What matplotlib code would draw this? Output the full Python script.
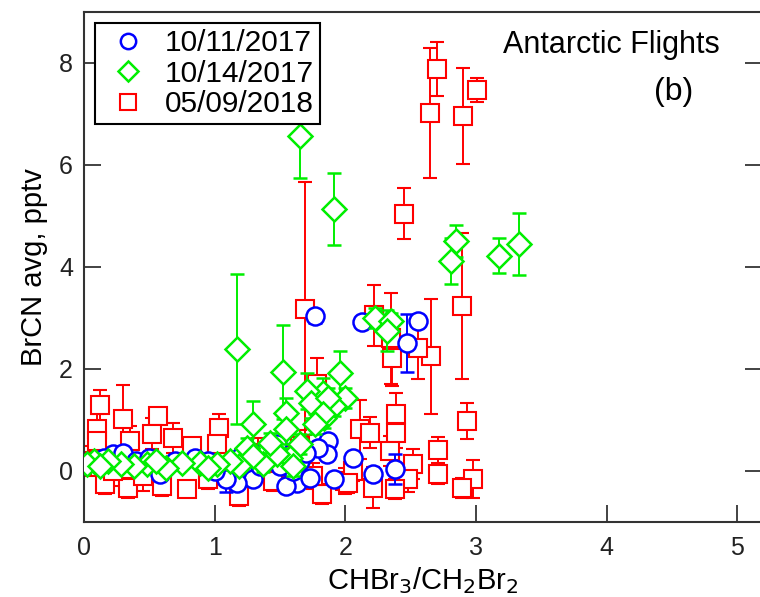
import matplotlib.pyplot as plt
import numpy as np

plt.rcParams['font.family'] = ['Liberation Sans', 'DejaVu Sans']

# 05/09/2018
red_x = [2.70, 2.65, 2.90, 3.01, 2.45, 1.69, 2.89, 2.66, 2.56, 2.36, 2.93, 2.71,
         2.71, 2.98, 2.89, 2.39, 2.39, 2.34, 2.52, 2.48, 2.38, 2.11, 2.19, 2.21,
         2.00, 2.06, 2.22, 2.35, 1.78, 1.82, 2.02, 1.19, 1.33, 1.65, 1.75,
         0.12, 0.30, 0.10, 0.10, 0.35, 0.57, 0.52, 0.68, 0.83, 1.03, 1.02,
         0.16, 0.34, 0.60, 0.79, 0.05, 0.22, 0.45, 0.95, 1.10, 1.25, 1.45, 1.55]
red_y = [7.88, 7.02, 6.96, 7.47, 5.04, 3.18, 3.24, 2.25, 2.41, 2.22, 0.98, 0.41,
         -0.06, -0.15, -0.33, 1.12, 0.75, 0.39, 0.14, -0.16, -0.35, 0.82, 0.75, -0.33,
         -0.20, 0.00, 3.05, 2.60, 1.71, -0.45, -0.24, -0.49, 0.35, 0.50, -0.10,
         1.29, 1.02, 0.82, 0.59, 0.59, 1.08, 0.73, 0.65, 0.49, 0.84, 0.53,
         -0.25, -0.33, -0.29, -0.35, 0.20, 0.00, -0.10, -0.15, -0.05, 0.10, -0.20, 0.20]
red_err = [0.53, 1.28, 0.94, 0.24, 0.50, 2.48, 1.43, 1.13, 0.60, 0.55, 0.36, 0.26,
           0.20, 0.37, 0.20, 0.41, 0.30, 0.30, 0.30, 0.25, 0.20, 0.58, 0.30, 0.40,
           0.25, 0.20, 0.60, 0.90, 0.50, 0.20, 0.20, 0.20, 0.30, 0.30, 0.25,
           0.30, 0.67, 0.30, 0.30, 0.30, 0.16, 0.30, 0.30, 0.12, 0.28, 0.30,
           0.20, 0.20, 0.20, 0.15, 0.30, 0.30, 0.30, 0.20, 0.20, 0.30, 0.20, 0.30]

# 10/11/2017
blue_x = [1.77, 2.13, 2.56, 2.47, 1.87, 1.86, 2.06, 1.91, 2.21, 2.38, 1.79, 1.63,
          1.55, 1.73, 1.48, 1.40, 1.29, 1.17, 1.09, 1.65, 1.70, 1.60, 0.22, 0.30,
          0.58, 0.15, 0.40, 0.50, 0.70, 0.85, 0.95, 1.00, 1.20, 1.35, 1.50]
blue_y = [3.03, 2.92, 2.94, 2.51, 0.59, 0.33, 0.25, -0.16, -0.06, 0.04, 0.45, -0.24,
          -0.29, -0.14, 0.53, 0.45, -0.16, -0.24, -0.16, 0.20, 0.35, 0.00, 0.33, 0.35,
          -0.06, 0.25, 0.20, 0.25, 0.20, 0.25, 0.20, 0.00, 0.30, 0.10, 0.10]
blue_err = [0.12, 0.08, 0.10, 0.57, 0.10, 0.10, 0.10, 0.10, 0.10, 0.30, 0.10, 0.10,
            0.10, 0.10, 0.10, 0.10, 0.10, 0.10, 0.25, 0.10, 0.10, 0.10, 0.10, 0.10,
            0.10, 0.10, 0.10, 0.10, 0.10, 0.10, 0.10, 0.10, 0.10, 0.10, 0.10]

# 10/14/2017
green_x = [1.65, 1.91, 2.85, 2.81, 3.18, 3.33, 2.23, 2.35, 2.32, 1.96, 2.00, 1.91,
           1.83, 1.84, 1.17, 1.52, 1.71, 1.74, 1.87, 1.83, 1.77, 1.55, 1.55, 1.29,
           1.25, 1.65, 1.58, 1.48, 1.37, 1.29, 1.19, 1.12, 1.02, 0.89, 0.75, 0.63,
           0.48, 0.38, 0.28, 0.18, 0.08, 0.02, 0.12, 0.55, 0.95, 1.42, 1.60]
green_y = [6.57, 5.14, 4.51, 4.12, 4.22, 4.45, 3.00, 2.94, 2.75, 1.92, 1.43, 1.27,
           1.53, 1.04, 2.39, 1.94, 1.57, 1.33, 1.43, 1.12, 0.92, 1.14, 0.82, 0.92,
           0.45, 0.53, 0.25, 0.33, 0.14, 0.29, 0.10, 0.20, 0.14, 0.16, 0.16, 0.06,
           0.14, 0.10, 0.14, 0.20, 0.20, 0.14, 0.10, 0.20, 0.05, 0.55, 0.10]
green_err = [0.83, 0.71, 0.31, 0.45, 0.34, 0.60, 0.20, 0.15, 0.40, 0.43, 0.20, 0.20,
             0.30, 0.20, 1.47, 0.92, 0.35, 0.30, 0.20, 0.20, 0.20, 0.30, 0.30, 0.45,
             0.20, 0.20, 0.20, 0.15, 0.15, 0.15, 0.10, 0.10, 0.10, 0.10, 0.10, 0.10,
             0.10, 0.10, 0.10, 0.10, 0.10, 0.10, 0.10, 0.10, 0.10, 0.20, 0.20]

fig = plt.figure(figsize=(7.6, 5.97), dpi=100)
ax = fig.add_axes([84 / 760, 75 / 597, 678 / 760, 510 / 597])

ax.errorbar(red_x, red_y, yerr=red_err, fmt='s', ms=13, mfc='white', mec='#ff0000',
            mew=1.5, ecolor='#ff0000', elinewidth=1.4, capsize=5, capthick=1.4,
            label='05/09/2018', zorder=2)
ax.errorbar(blue_x, blue_y, yerr=blue_err, fmt='o', ms=13, mfc='white', mec='#0000ff',
            mew=1.8, ecolor='#0000ff', elinewidth=1.4, capsize=5, capthick=1.4,
            label='10/11/2017', zorder=3)
ax.errorbar(green_x, green_y, yerr=green_err, fmt='D', ms=12, mfc='white', mec='#00ee00',
            mew=1.8, ecolor='#00ee00', elinewidth=1.4, capsize=5, capthick=1.4,
            label='10/14/2017', zorder=4)

ax.set_xlim(0, 5.19)
ax.set_ylim(-1.0, 9.0)
ax.set_xticks(range(0, 6))
ax.set_yticks([0, 2, 4, 6, 8])
ax.tick_params(direction='in', length=12, width=1.2, labelsize=18, pad=8,
               right=True, colors='#222222')
ax.tick_params(axis='x', pad=10)
for s in ax.spines.values():
    s.set_linewidth(1.5)
    s.set_color('#333333')

ax.set_xlabel('CHBr$_3$/CH$_2$Br$_2$', fontsize=21, labelpad=4)
ax.set_ylabel('BrCN avg, pptv', fontsize=21, labelpad=8)

handles, labels = ax.get_legend_handles_labels()
order = [1, 2, 0]
leg = ax.legend([handles[i][0] for i in order], [labels[i] for i in order],
                loc='upper left', bbox_to_anchor=(0.016, 0.978), fontsize=21.5,
                markerscale=0.85, labelspacing=0.08, handletextpad=0.35,
                borderpad=0.2, borderaxespad=0, handlelength=1.8,
                fancybox=False, framealpha=1)
leg.get_frame().set_edgecolor('black')
leg.get_frame().set_linewidth(1.5)

fig.text(503 / 760, 1 - 45 / 597, 'Antarctic Flights', fontsize=22, va='center')
fig.text(654 / 760, 1 - 92 / 597, '(b)', fontsize=23, va='center')

plt.savefig('out.png', dpi=100)
